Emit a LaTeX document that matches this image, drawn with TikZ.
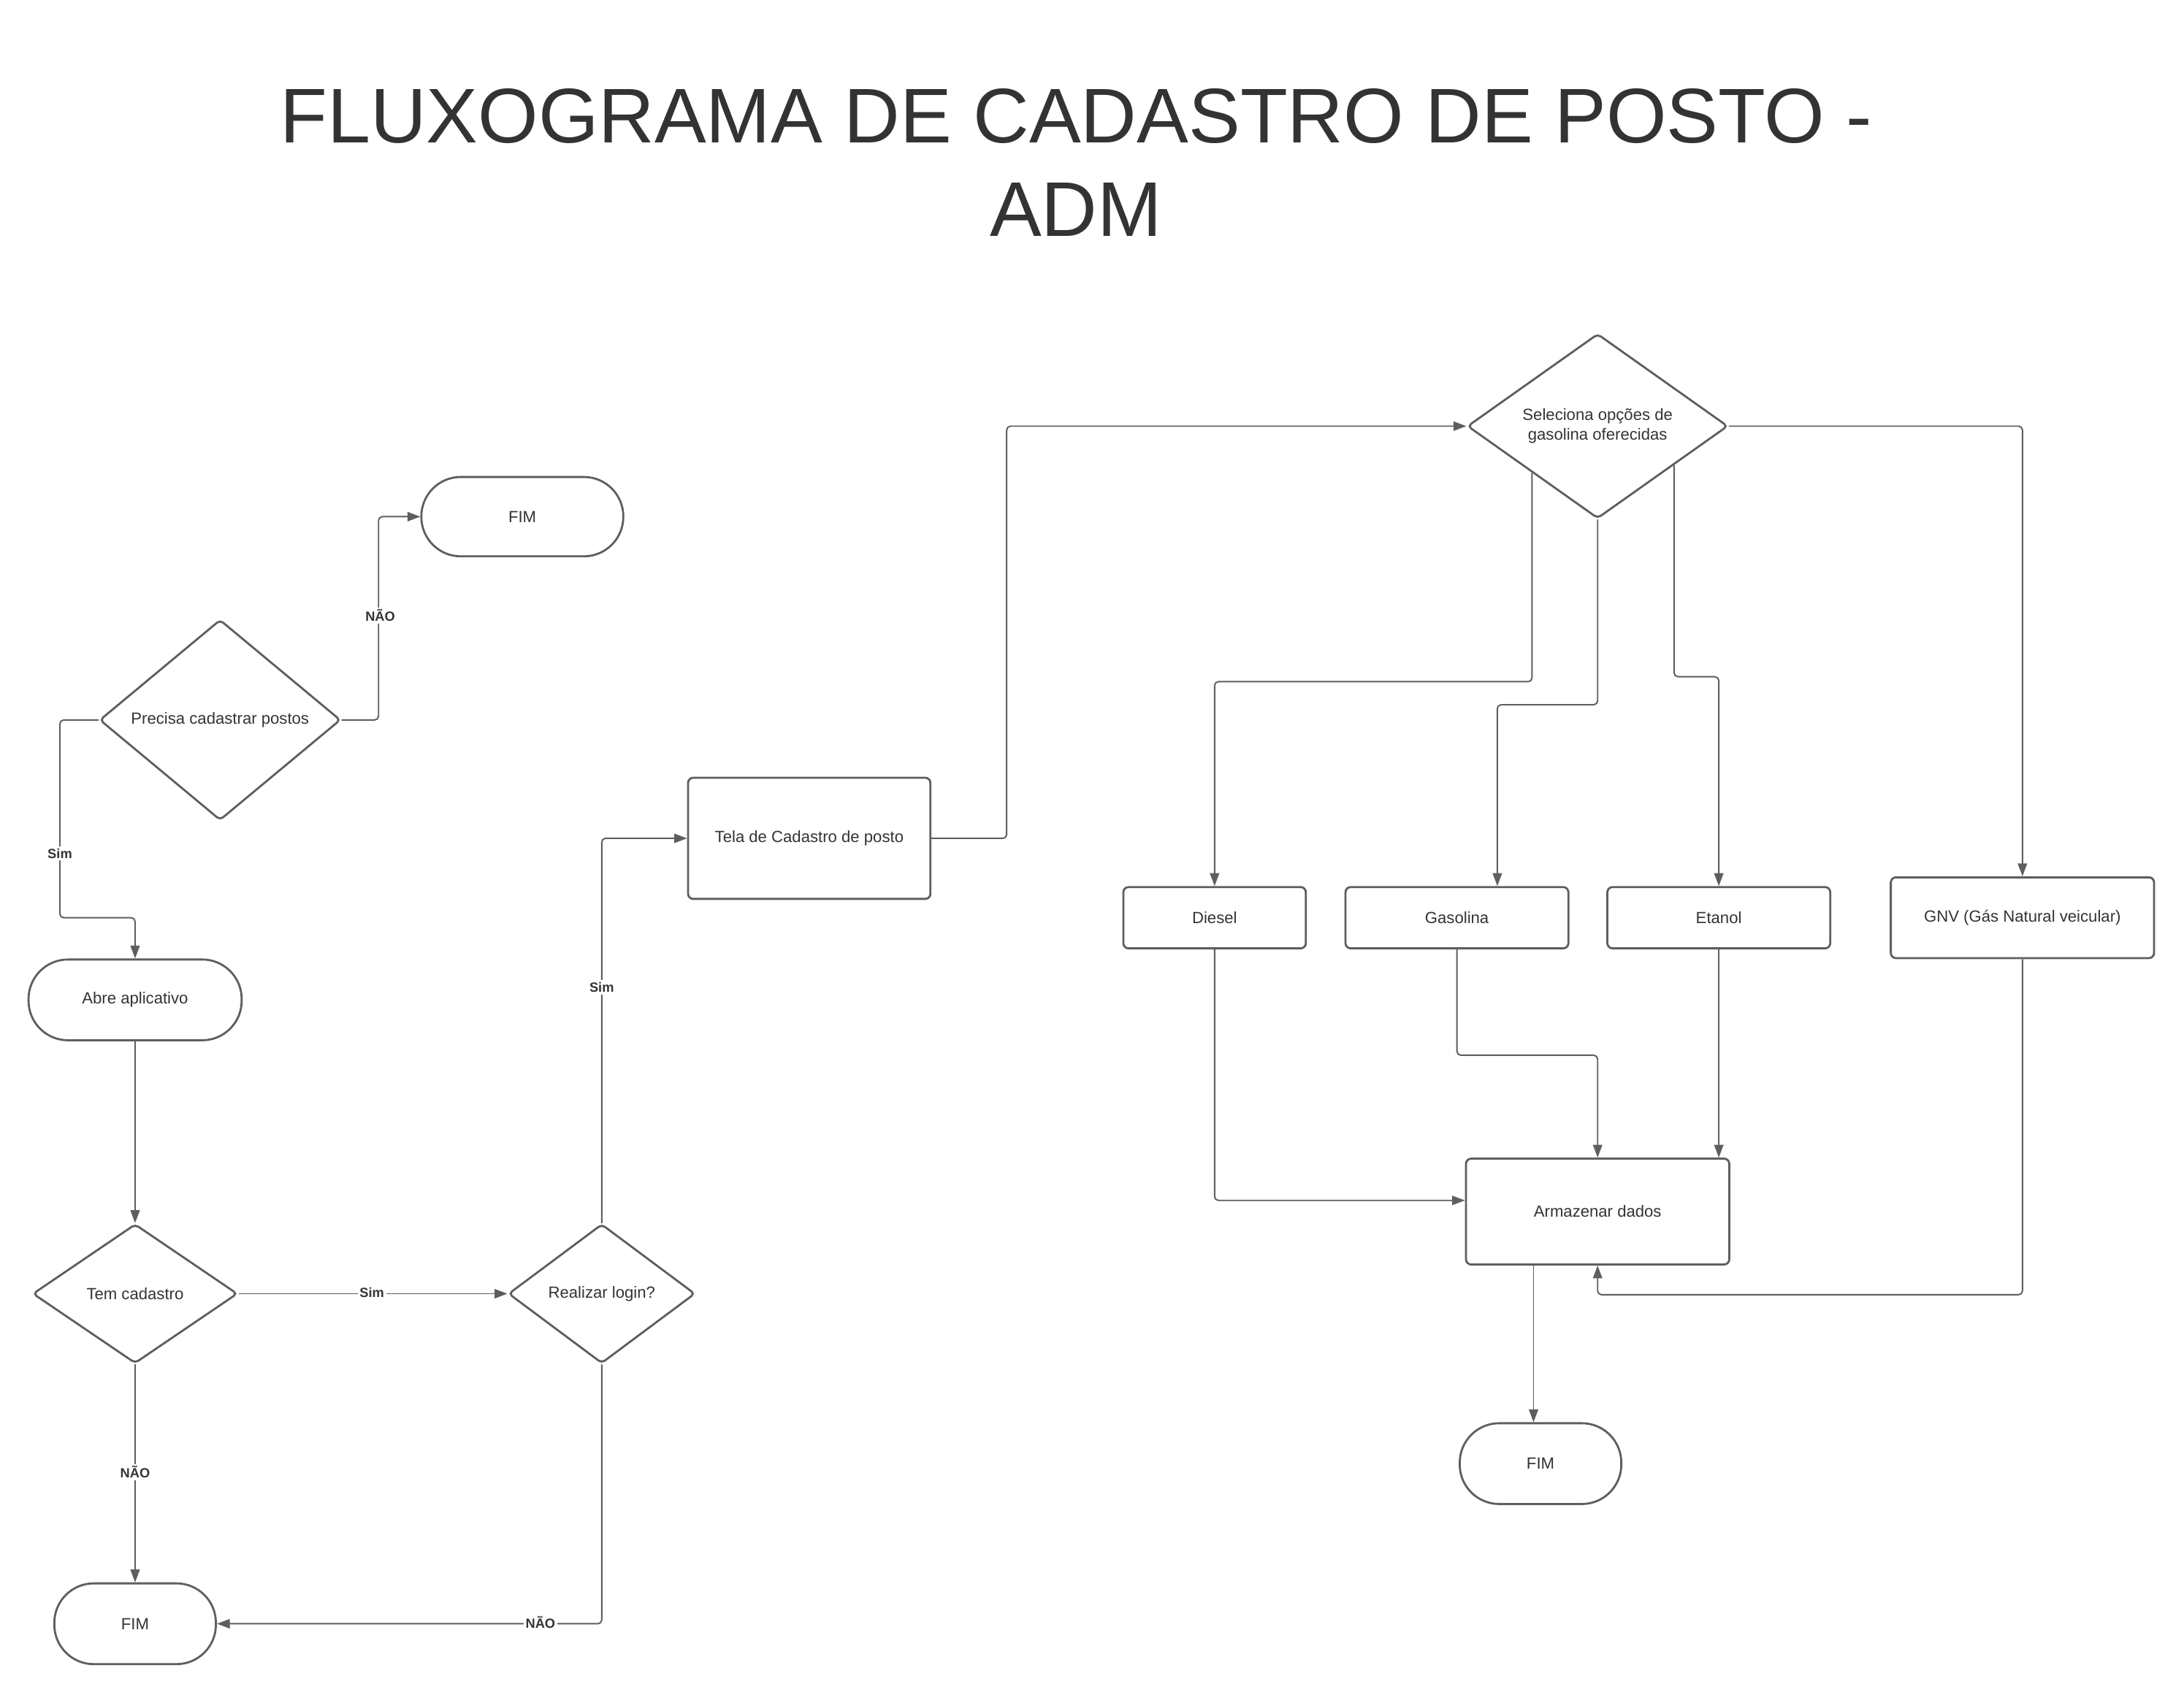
\documentclass[tikz,border=0pt]{standalone}
\usepackage{fontspec}
\setmainfont{Liberation Sans}
\usetikzlibrary{arrows.meta,shapes.geometric,calc}
\definecolor{ln}{HTML}{5E5E5E}
\definecolor{tx}{HTML}{333333}
\def\U{0.01907cm}
\begin{document}
\begin{tikzpicture}[x=0.01907cm,y=-0.01907cm,
  base/.style={draw=ln,line width=0.8pt,text=tx,font=\fontsize{6.3}{7.6}\selectfont,align=center,inner sep=0pt},
  proc/.style={base,rectangle,rounded corners=2pt},
  term/.style={base,rectangle,rounded corners=0.54cm},
  dec/.style={base,diamond,rounded corners=1.5pt},
  conn/.style={draw=ln,line width=0.55pt,rounded corners=1.5pt,-{Triangle[length=5pt,width=3.6pt]}},
  lbl/.style={fill=white,text=tx,font=\fontsize{5.2}{6}\selectfont\bfseries,inner sep=0.8pt},
  ttl/.style={text=tx,font=\fontsize{30.2}{36}\selectfont,inner sep=0pt,anchor=base}
]
\useasboundingbox (0,0) rectangle (1568,1217);

% title
\node[ttl] (title1) at (772.5,102.6) {FLUXOGRAMA DE CADASTRO DE POSTO -};
\node[ttl] (title2) at (772.5,169.6) {ADM};

% nodes
\node[term,minimum width=145*\U,minimum height=57*\U] (fim1) at (375,371) {FIM};
\node[dec,minimum width=173*\U,minimum height=144*\U] (precisa) at (158,517) {Precisa cadastrar postos};
\node[term,minimum width=153*\U,minimum height=58*\U] (abre) at (97,718) {Abre aplicativo};
\node[dec,minimum width=147*\U,minimum height=100*\U] (tem) at (97,929) {Tem cadastro};
\node[dec,minimum width=134*\U,minimum height=100*\U] (login) at (432,929) {Realizar login?};
\node[term,minimum width=116*\U,minimum height=58*\U] (fim2) at (97,1166) {FIM};
\node[proc,minimum width=174*\U,minimum height=87*\U] (tela) at (581,602) {Tela de Cadastro de posto};
\node[dec,minimum width=187*\U,minimum height=130*\U] (sel) at (1147,306) {Seleciona opções de\\gasolina oferecidas};
\node[proc,minimum width=131*\U,minimum height=44*\U] (diesel) at (872,659) {Diesel};
\node[proc,minimum width=160*\U,minimum height=44*\U] (gas) at (1046,659) {Gasolina};
\node[proc,minimum width=160*\U,minimum height=44*\U] (etanol) at (1234,659) {Etanol};
\node[proc,minimum width=189*\U,minimum height=58*\U] (gnv) at (1452,659) {GNV (Gás Natural veicular)};
\node[proc,minimum width=189*\U,minimum height=76*\U] (arm) at (1147,870) {Armazenar dados};
\node[term,minimum width=116*\U,minimum height=58*\U] (fim3) at (1106,1051) {FIM};

% connectors
\draw[conn] (precisa.east) -| ([xshift=-30*\U]fim1.west) -- (fim1.west);
\draw[conn] (precisa.west) -| (43,659) -| (abre.north);
\draw[conn] (abre.south) -- (tem.north);
\draw[conn] (tem.east) -- (login.west);
\draw[conn] (tem.south) -- (fim2.north);
\draw[conn] (login.south) |- (fim2.east);
\draw[conn] (login.north) |- (tela.west);
\draw[conn] (tela.east) -- ++(54,0) |- (sel.west);
\draw[conn] (sel.south west) -- ++(0,150) -| (diesel.north);
\draw[conn] (sel.south) -- ++(0,133) -| ([xshift=29*\U]gas.north);
\draw[conn] (sel.-27.4) -- ++(0,152) -| (etanol.north);
\draw[conn] (sel.east) -| (gnv.north);
\draw[conn] (diesel.south) |- ([yshift=8*\U]arm.west);
\draw[conn] (gas.south) -- ++(0,76) -| (arm.north);
\draw[conn] (etanol.south) -- (etanol.south |- arm.north);
\draw[conn] (gnv.south) -- ++(0,241) -| (arm.south);
\draw[conn] ([xshift=-46*\U]arm.south) -- ([xshift=-5*\U]fim3.north);

% labels
\node[lbl] (l1) at (273,442) {NÃO};
\node[lbl] (l2) at (43,613) {Sim};
\node[lbl] (l3) at (267,928) {Sim};
\node[lbl] (l4) at (97,1057) {NÃO};
\node[lbl] (l5) at (388,1165) {NÃO};
\node[lbl] (l6) at (432,709) {Sim};
\end{tikzpicture}
\end{document}
